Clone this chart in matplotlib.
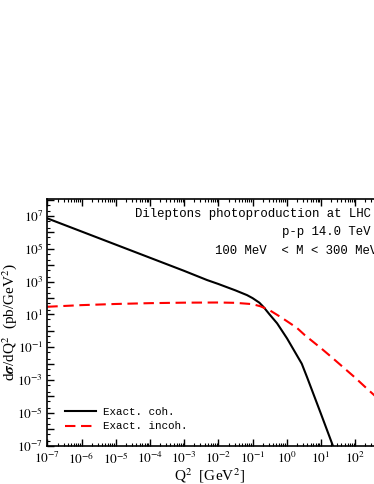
import numpy as np
import matplotlib
matplotlib.use("Agg")
import matplotlib.pyplot as plt
from matplotlib.ticker import FixedLocator, LogLocator, NullFormatter

plt.rcParams['mathtext.fontset'] = 'stix'
plt.rcParams['font.family'] = ['Liberation Serif', 'DejaVu Serif']

# data: log10(Q^2) and log10(dsigma/dQ^2)
coh_logq = [-7, -6, -5, -4, -3, -2.33, -2, -1.5, -1.16, -1.0, -0.8, -0.675, -0.5,
            -0.28, 0.01, 0.2, 0.44, 0.6, 0.78, 1.0, 1.35, 1.45]
coh_logs = [6.86, 6.06, 5.26, 4.46, 3.66, 3.10, 2.86, 2.47, 2.18, 2.0, 1.72, 1.45, 1.0,
            0.46, -0.46, -1.14, -2.0, -2.85, -3.84, -5.05, -7.0, -7.6]

incoh_logq = [-7, -6, -5, -4, -3, -2, -1.5, -1.0, -0.77, -0.5, -0.19, 0.0, 0.3,
              0.53, 1.0, 1.3, 2.0, 2.33, 3.0]
incoh_logs = [1.47, 1.57, 1.64, 1.69, 1.72, 1.73, 1.71, 1.63, 1.50, 1.26, 0.86, 0.6, 0.18,
              -0.26, -1.05, -1.58, -2.85, -3.49, -4.75]

labels = ["Exact. coh.", "Exact. incoh."]
title_lines = ["Dileptons photoproduction at LHC", "p-p 14.0 TeV", "100 MeV  < M < 300 MeV"]

W, H = 374, 484
fig = plt.figure(figsize=(W / 100, H / 100), dpi=100)
ax = fig.add_axes([47.3 / W, 38.3 / H, 342 / W, 246.7 / H])

q1 = 10.0 ** np.array(coh_logq)
s1 = 10.0 ** np.array(coh_logs)
q2 = 10.0 ** np.array(incoh_logq)
s2 = 10.0 ** np.array(incoh_logs)

ax.plot(q1, s1, color='black', lw=1.5, label=labels[0])
ax.plot(q2, s2, color='#ff0000', lw=1.5, dashes=(5, 2.7), label=labels[1])

ax.set_xscale('log')
ax.set_yscale('log')
ax.set_xlim(1e-7, 1e3)
ax.set_ylim(1e-7, 10 ** 8.04)

# ticks
xt = [10.0 ** k for k in range(-7, 4)]
ax.xaxis.set_major_locator(FixedLocator(xt))
ax.set_xticklabels([r"$10^{%d}$" % k for k in range(-7, 4)])
ax.xaxis.set_minor_locator(LogLocator(base=10, subs=np.arange(2, 10), numticks=50))
ax.xaxis.set_minor_formatter(NullFormatter())

yt = [10.0 ** k for k in range(-7, 9)]
ax.yaxis.set_major_locator(FixedLocator(yt))
ax.set_yticklabels([(r"$10^{%d}$" % k) if (k % 2 != 0) else "" for k in range(-7, 9)])
ax.yaxis.set_minor_locator(LogLocator(base=10, subs=(2.0, 5.0), numticks=50))
ax.yaxis.set_minor_formatter(NullFormatter())

ax.tick_params(which='both', direction='in', top=True, right=False)
ax.tick_params(which='major', length=5, width=1, labelsize=9.5, pad=4)
ax.tick_params(which='minor', length=2.5, width=0.8)
ax.tick_params(axis='y', which='major', pad=3)
for sp in ax.spines.values():
    sp.set_linewidth(1.2)

ax.set_xlabel(r"Q$^2$  [GeV$^2$]", fontsize=11)
ax.xaxis.set_label_coords(0.473, -0.085)
ax.set_ylabel(r"d$\boldsymbol{\sigma}$/dQ$^2$  (pb/GeV$^2$)", fontsize=11)
ax.yaxis.set_label_coords(-0.082, 0.5)

leg = ax.legend(loc='center left', bbox_to_anchor=((65 - 47.3) / 342, (445.7 - 419) / 246.7),
                frameon=False, borderpad=0, borderaxespad=0, handlelength=2.9,
                handletextpad=0.65, labelspacing=0.45,
                prop={'family': 'Liberation Mono', 'size': 7.8})

mono = 'Liberation Mono'
fig.text(371 / W, 1 - 214 / H, title_lines[0], ha='right', va='center', family=mono, fontsize=8.9)
fig.text(371 / W, 1 - 231.5 / H, title_lines[1], ha='right', va='center', family=mono, fontsize=8.9)
fig.text(215 / W, 1 - 250.5 / H, title_lines[2], ha='left', va='center', family=mono, fontsize=8.9)

fig.savefig("out.png", dpi=100)
